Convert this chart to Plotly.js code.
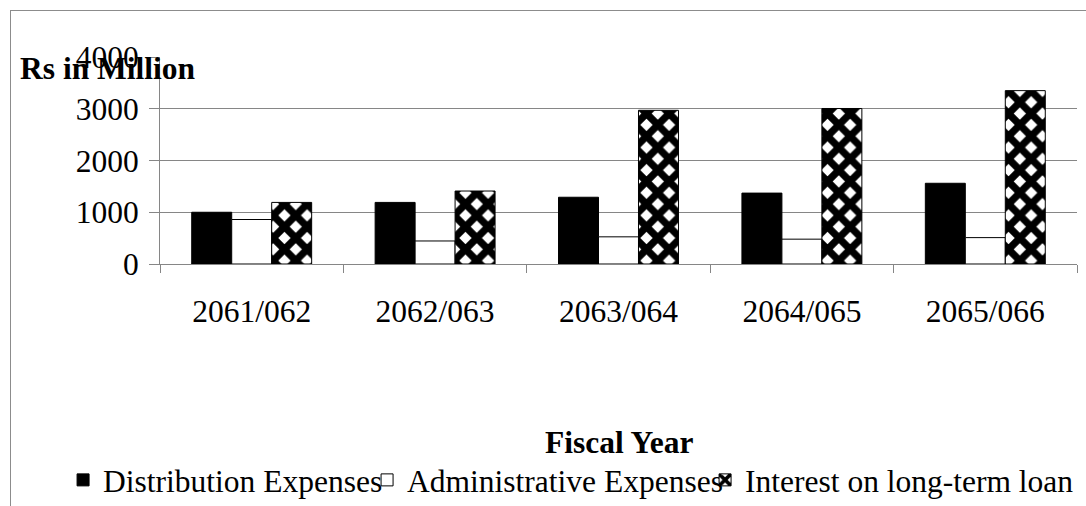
<!DOCTYPE html>
<html>
<head>
<meta charset="utf-8">
<script src="https://cdn.plot.ly/plotly-3.0.1.min.js"></script>
<style>
  html, body { margin: 0; padding: 0; background: #ffffff; }
  #frame {
    position: absolute; left: 10px; top: 10px; width: 1076px; height: 496px;
    border-left: 1px solid #8c8c8c; border-top: 1px solid #8c8c8c;
    box-sizing: border-box; z-index: 0;
  }
  #chart { position: absolute; left: 0; top: 0; width: 1086px; height: 506px; z-index: 1; }
</style>
</head>
<body>
<div id="frame"></div>
<div id="chart"></div>
<script>
// Fiscal years (Nepali calendar) and expense figures, Rs in million
const fiscalYears = ['2061/062', '2062/063', '2063/064', '2064/065', '2065/066'];
const distributionExpenses = [1000, 1190, 1290, 1370, 1560];
const administrativeExpenses = [860, 445, 525, 480, 510];
const interestOnLoan = [1190, 1410, 2970, 3005, 3350];
const yTicks = [0, 1000, 2000, 3000, 4000];

const serif = 'Liberation Serif, Times New Roman, serif';
const gray = '#868686';
const fontSize = 31.5;

const traces = [
  {
    type: 'bar', name: 'Distribution Expenses',
    x: fiscalYears, y: distributionExpenses,
    marker: { color: '#000000', line: { color: '#000000', width: 1 } },
    legendwidth: 259
  },
  {
    type: 'bar', name: 'Administrative Expenses',
    x: fiscalYears, y: administrativeExpenses,
    marker: { color: '#ffffff', line: { color: '#000000', width: 1 } },
    legendwidth: 293
  },
  {
    type: 'bar', name: 'Interest on long-term loan',
    x: fiscalYears, y: interestOnLoan,
    marker: {
      color: '#ffffff',
      line: { color: '#000000', width: 1 },
      pattern: { shape: 'x', fgcolor: '#000000', bgcolor: '#ffffff', size: 16, solidity: 0.7 }
    }
  }
];

const layout = {
  width: 1086, height: 506,
  margin: { l: 160, r: 9, t: 57, b: 242, autoexpand: false },
  paper_bgcolor: 'rgba(0,0,0,0)',
  plot_bgcolor: '#ffffff',
  font: { family: serif, size: fontSize, color: '#000000' },
  barmode: 'group', bargap: 0.346, bargroupgap: 0,
  showlegend: true,
  legend: {
    orientation: 'h', x: -0.1057, xanchor: 'left', y: -1.043, yanchor: 'middle',
    font: { family: serif, size: fontSize, color: '#000000' },
    bgcolor: 'rgba(0,0,0,0)', traceorder: 'normal'
  },
  xaxis: {
    type: 'category', showgrid: false, showline: true, linecolor: gray, linewidth: 1,
    ticks: 'outside', tickson: 'boundaries', ticklen: 8, tickcolor: gray, tickwidth: 1,
    tickfont: { family: serif, size: fontSize, color: '#000000' },
    ticklabelstandoff: 19, zeroline: false, fixedrange: true
  },
  yaxis: {
    range: [0, 4000], tickvals: yTicks, ticktext: yTicks.map(String),
    showgrid: true, gridcolor: gray, gridwidth: 1,
    showline: true, linecolor: gray, linewidth: 1,
    ticks: 'outside', ticklen: 10, tickcolor: gray, tickwidth: 1,
    tickfont: { family: serif, size: fontSize, color: '#000000' },
    ticklabelstandoff: 4, zeroline: false, fixedrange: true
  },
  annotations: [
    {
      text: '<b>Rs in Million</b>', xref: 'paper', yref: 'paper',
      x: -0.1549, xanchor: 'left', y: 0.945, yanchor: 'middle', showarrow: false,
      font: { family: serif, size: fontSize, color: '#000000' }
    },
    {
      text: '<b>Fiscal Year</b>', xref: 'paper', yref: 'paper',
      x: 0.5, xanchor: 'center', y: -0.86, yanchor: 'middle', showarrow: false,
      font: { family: serif, size: fontSize, color: '#000000' }
    }
  ]
};

Plotly.newPlot('chart', traces, layout, { displayModeBar: false, staticPlot: true });
</script>
</body>
</html>
